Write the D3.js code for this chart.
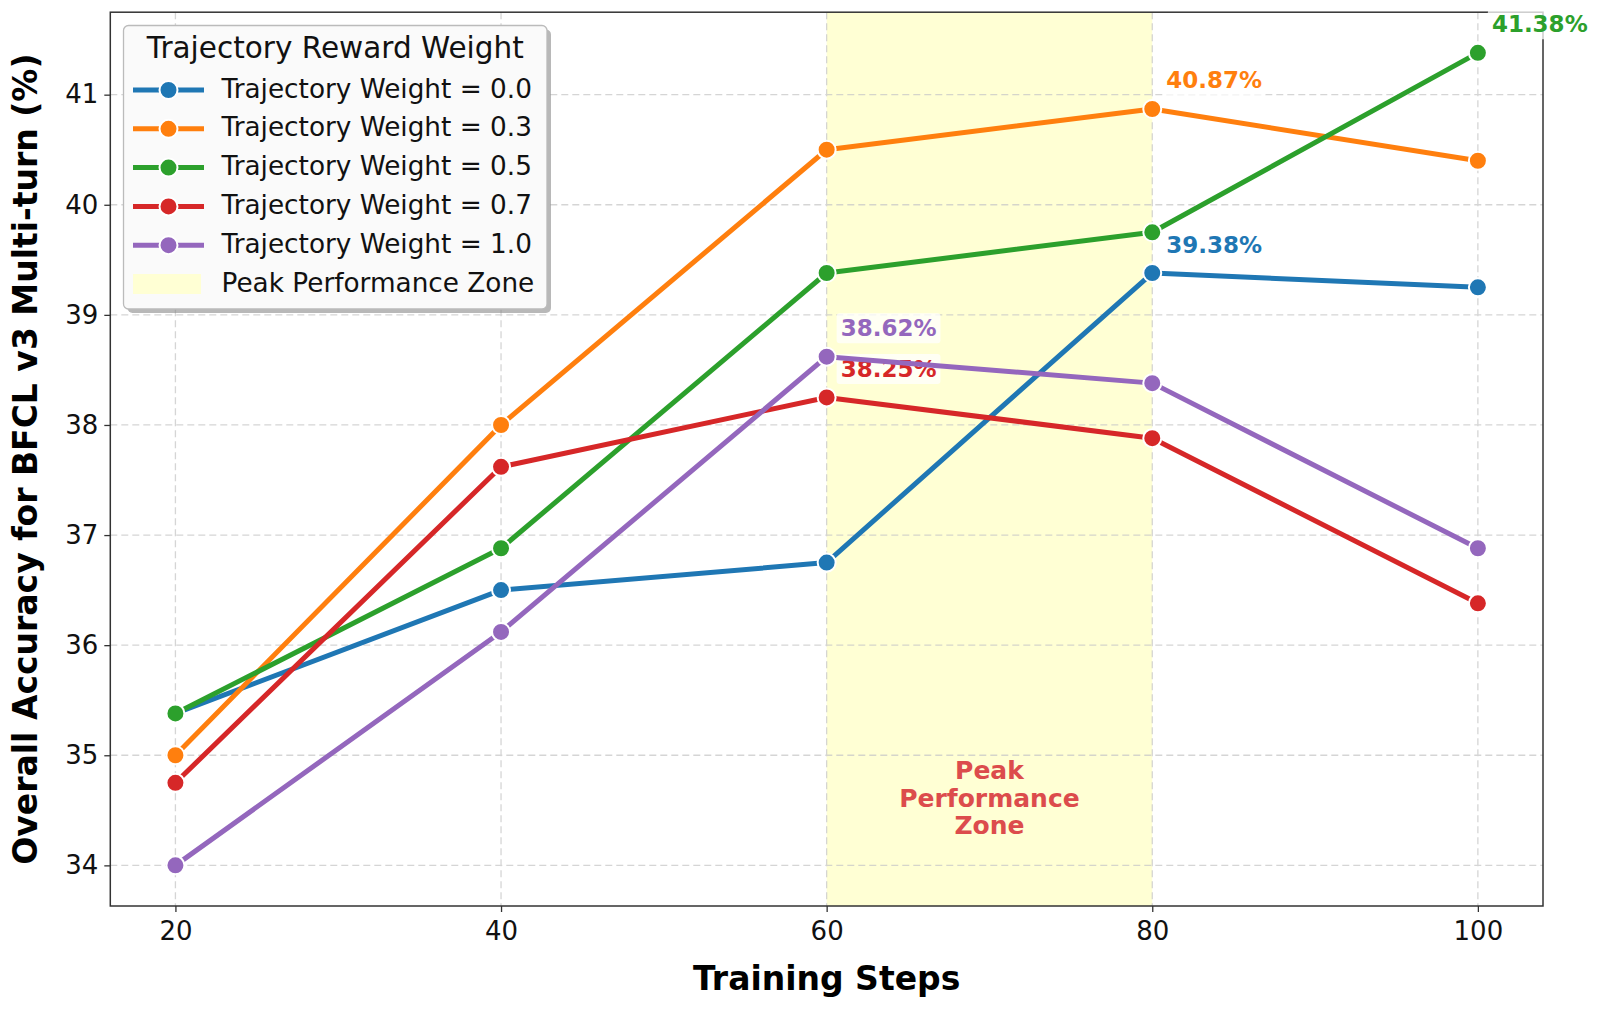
<!DOCTYPE html>
<html>
<head>
<meta charset="utf-8">
<script src="https://cdn.jsdelivr.net/npm/d3@7"></script>
<style>
  body { margin: 0; background: #fff; }
  svg text { font-family: "DejaVu Sans", sans-serif; }
</style>
</head>
<body>
<div class="chart"></div>
<script>
const steps = [20, 40, 60, 80, 100];
const weightNames = ["Trajectory Weight = 0.0", "Trajectory Weight = 0.3", "Trajectory Weight = 0.5", "Trajectory Weight = 0.7", "Trajectory Weight = 1.0"];
const acc00 = [35.38, 36.50, 36.75, 39.38, 39.25];
const acc03 = [35.00, 38.00, 40.50, 40.87, 40.40];
const acc05 = [35.38, 36.88, 39.38, 39.75, 41.38];
const acc07 = [34.75, 37.62, 38.25, 37.88, 36.38];
const acc10 = [34.00, 36.12, 38.62, 38.38, 36.88];
const seriesColors = ["#1f77b4", "#ff7f0e", "#2ca02c", "#d62728", "#9467bd"];
const xTicks = [20, 40, 60, 80, 100];
const yTicks = [34, 35, 36, 37, 38, 39, 40, 41];
const zoneRange = [60, 80];
const zoneLabel = ["Peak", "Performance", "Zone"];

const chart = {
  w: 1600,
  h: 1010,
  left: 110.3,
  right: 1543,
  top: 12.2,
  bottom: 906,
  draw: () => {
    const series = [acc00, acc03, acc05, acc07, acc10].map((vals, i) => ({
      name: weightNames[i],
      color: seriesColors[i],
      points: vals.map((v, j) => ({ x: steps[j], y: v }))
    }));
    const allVals = series.flatMap(s => s.points.map(p => p.y));
    const yMin = d3.min(allVals), yMax = d3.max(allVals);
    const yPad = (yMax - yMin) * 0.05;
    const xPad = (d3.max(steps) - d3.min(steps)) * 0.05;

    const xScale = d3.scaleLinear()
      .domain([d3.min(steps) - xPad, d3.max(steps) + xPad])
      .range([chart.left, chart.right]);
    const yScale = d3.scaleLinear()
      .domain([yMin - yPad, yMax + yPad])
      .range([chart.bottom, chart.top]);

    const svg = d3.select(".chart").append("svg")
      .attr("width", chart.w)
      .attr("height", chart.h);

    // peak zone
    svg.append("rect")
      .attr("x", xScale(zoneRange[0]))
      .attr("y", chart.top)
      .attr("width", xScale(zoneRange[1]) - xScale(zoneRange[0]))
      .attr("height", chart.bottom - chart.top)
      .attr("fill", "#ffffd4");

    // grid
    const grid = svg.append("g").attr("stroke", "#c8c8c8").attr("stroke-width", 1.3)
      .attr("stroke-dasharray", "7,4").attr("opacity", 0.75);
    grid.selectAll(".gx").data(xTicks).enter().append("line")
      .attr("x1", d => xScale(d)).attr("x2", d => xScale(d))
      .attr("y1", chart.top).attr("y2", chart.bottom);
    grid.selectAll(".gy").data(yTicks).enter().append("line")
      .attr("y1", d => yScale(d)).attr("y2", d => yScale(d))
      .attr("x1", chart.left).attr("x2", chart.right);

    // zone text
    svg.append("text")
      .attr("x", xScale(d3.mean(zoneRange)))
      .attr("y", yScale(34.78))
      .attr("text-anchor", "middle")
      .attr("font-size", 25)
      .attr("font-weight", "bold")
      .attr("fill", "#dc4c4c")
      .selectAll("tspan").data(zoneLabel).enter().append("tspan")
      .attr("x", xScale(d3.mean(zoneRange)))
      .attr("dy", (d, i) => i === 0 ? 0 : 27.5)
      .text(d => d);

    // axes
    const xAxis = d3.axisBottom(xScale).tickValues(xTicks).tickSize(6).tickPadding(6);
    const yAxis = d3.axisLeft(yScale).tickValues(yTicks).tickSize(6).tickPadding(6);
    const gx = svg.append("g").attr("transform", `translate(0,${chart.bottom})`).call(xAxis);
    const gy = svg.append("g").attr("transform", `translate(${chart.left},0)`).call(yAxis);
    [gx, gy].forEach(g => {
      g.select(".domain").remove();
      g.selectAll(".tick line").attr("stroke", "#333").attr("stroke-width", 1.3);
      g.selectAll(".tick text").attr("font-size", 26).attr("fill", "#111")
        .attr("font-family", "DejaVu Sans");
    });
    gx.selectAll(".tick text").attr("dy", "0.85em");

    svg.append("rect")
      .attr("x", chart.left).attr("y", chart.top)
      .attr("width", chart.right - chart.left).attr("height", chart.bottom - chart.top)
      .attr("fill", "none").attr("stroke", "#333").attr("stroke-width", 1.5);

    // axis titles
    svg.append("text")
      .attr("x", (chart.left + chart.right) / 2).attr("y", 980)
      .attr("text-anchor", "middle").attr("dominant-baseline", "middle")
      .attr("font-size", 33).attr("font-weight", "bold")
      .text("Training Steps");
    svg.append("text")
      .attr("transform", `translate(27,${(chart.top + chart.bottom) / 2}) rotate(-90)`)
      .attr("text-anchor", "middle").attr("dominant-baseline", "middle")
      .attr("font-size", 33).attr("font-weight", "bold")
      .text("Overall Accuracy for BFCL v3 Multi-turn (%)");

    const line = d3.line().x(d => xScale(d.x)).y(d => yScale(d.y));

    series.forEach(s => {
      svg.append("path")
        .datum(s.points)
        .attr("d", line)
        .attr("fill", "none")
        .attr("stroke", s.color)
        .attr("stroke-width", 5)
        .attr("stroke-linejoin", "round");
      svg.selectAll(null).data(s.points).enter().append("circle")
        .attr("cx", d => xScale(d.x)).attr("cy", d => yScale(d.y))
        .attr("r", 9)
        .attr("fill", s.color)
        .attr("stroke", "#fff").attr("stroke-width", 2);

      const best = s.points.reduce((a, b) => (b.y > a.y ? b : a));
      const lg = svg.append("g");
      const t = lg.append("text")
        .attr("x", xScale(best.x) + 14)
        .attr("y", yScale(best.y) - 27)
        .attr("dominant-baseline", "middle")
        .attr("font-size", 23).attr("font-weight", "bold")
        .attr("fill", s.color)
        .text(best.y.toFixed(2) + "%");
      const bb = t.node().getBBox();
      lg.insert("rect", "text")
        .attr("x", bb.x - 4).attr("y", bb.y - 2)
        .attr("width", bb.width + 8).attr("height", bb.height + 4)
        .attr("rx", 3)
        .attr("fill", "#fff").attr("opacity", 0.75);
    });

    // legend
    const leg = svg.append("g");
    const lx = 123.5, ly = 25.5, lw = 423.5, lh = 283.5;
    leg.append("rect")
      .attr("x", lx + 4).attr("y", ly + 4).attr("width", lw).attr("height", lh)
      .attr("rx", 5).attr("fill", "#888").attr("opacity", 0.6);
    leg.append("rect")
      .attr("x", lx).attr("y", ly).attr("width", lw).attr("height", lh)
      .attr("rx", 5).attr("fill", "#fafafa").attr("stroke", "#bbb").attr("stroke-width", 1.3);
    leg.append("text")
      .attr("x", lx + lw / 2).attr("y", 49)
      .attr("text-anchor", "middle").attr("dominant-baseline", "middle")
      .attr("font-size", 29.5).attr("fill", "#111")
      .text("Trajectory Reward Weight");
    const rowY = i => 90 + i * 38.8;
    series.forEach((s, i) => {
      leg.append("line")
        .attr("x1", 133).attr("x2", 204).attr("y1", rowY(i)).attr("y2", rowY(i))
        .attr("stroke", s.color).attr("stroke-width", 5);
      leg.append("circle")
        .attr("cx", 168.5).attr("cy", rowY(i)).attr("r", 9)
        .attr("fill", s.color).attr("stroke", "#fff").attr("stroke-width", 2);
      leg.append("text")
        .attr("x", 221.5).attr("y", rowY(i))
        .attr("dominant-baseline", "middle")
        .attr("font-size", 26.3).attr("fill", "#111")
        .text(s.name);
    });
    leg.append("rect")
      .attr("x", 133).attr("y", rowY(5) - 10).attr("width", 68).attr("height", 20)
      .attr("fill", "#ffffd4");
    leg.append("text")
      .attr("x", 221.5).attr("y", rowY(5))
      .attr("dominant-baseline", "middle")
      .attr("font-size", 26.3).attr("fill", "#111")
      .text("Peak Performance Zone");
  }
};

document.addEventListener("DOMContentLoaded", () => chart.draw());
</script>
</body>
</html>
